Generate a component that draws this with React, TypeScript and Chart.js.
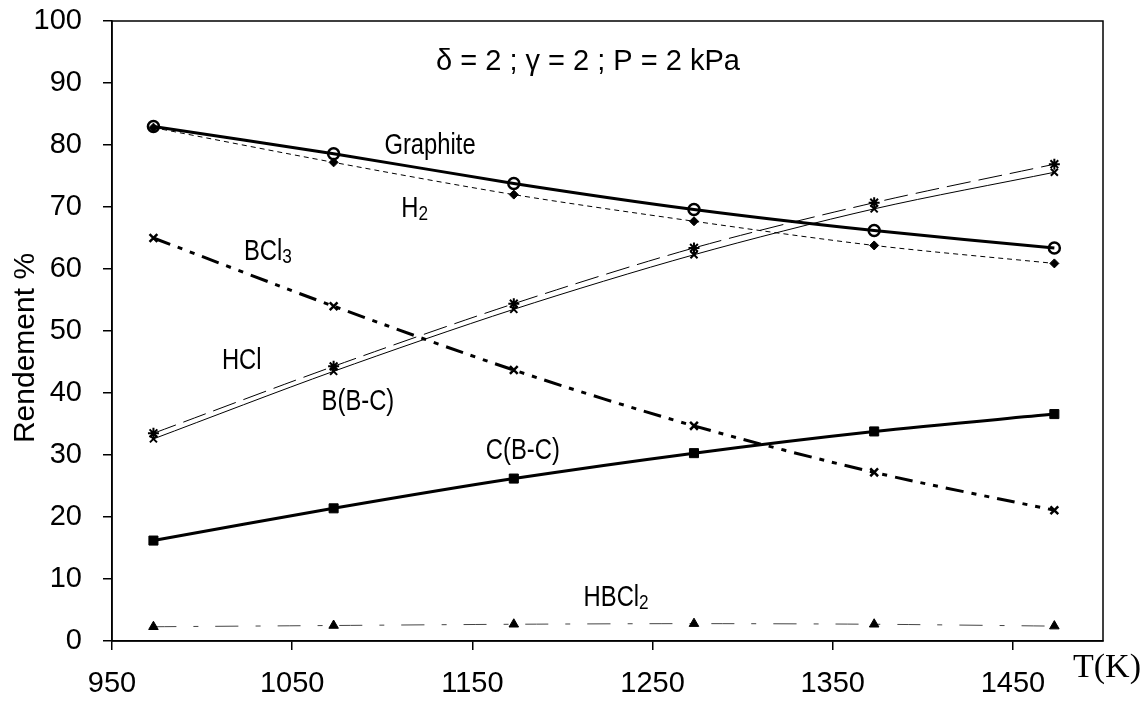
import React, { useEffect, useRef } from "react";
import { Chart, registerables } from "chart.js";

Chart.register(...registerables);

// ---- Data ----
const temperatures = [973, 1073, 1173, 1273, 1373, 1473];
const graphite = [83.0, 78.6, 73.8, 69.6, 66.2, 63.4];
const h2 = [82.8, 77.2, 72.0, 67.7, 63.8, 60.9];
const hcl = [33.5, 44.3, 54.4, 63.4, 70.7, 76.9];
const bbc = [32.6, 43.5, 53.5, 62.3, 69.7, 75.6];
const bcl3 = [65.0, 54.0, 43.7, 34.7, 27.2, 21.1];
const cbc = [16.2, 21.4, 26.2, 30.3, 33.8, 36.6];
const hbcl2 = [2.3, 2.5, 2.7, 2.8, 2.7, 2.4];

const xTickValues = [950, 1050, 1150, 1250, 1350, 1450];
const yTickValues = [0, 10, 20, 30, 40, 50, 60, 70, 80, 90, 100];

const chartTitle = "δ = 2 ; γ = 2 ; P = 2 kPa";
const xAxisTitle = "T(K)";
const yAxisTitle = "Rendement %";

// series labels placed in data coordinates (centre of text)
const seriesLabels = [
  { text: "Graphite", sub: "", x: 1126.5, y: 80.2 },
  { text: "H", sub: "2", x: 1118, y: 70.1 },
  { text: "BCl", sub: "3", x: 1036.5, y: 63.1 },
  { text: "HCl", sub: "", x: 1022, y: 45.5 },
  { text: "B(B-C)", sub: "", x: 1086.5, y: 39.0 },
  { text: "C(B-C)", sub: "", x: 1178, y: 31.1 },
  { text: "HBCl", sub: "2", x: 1229.8, y: 7.4 },
];

const SANS = '"Liberation Sans", Arial, Helvetica, sans-serif';
const SERIF = '"Liberation Serif", "Times New Roman", serif';

function toPoints(ys: number[]) {
  return temperatures.map((t, i) => ({ x: t, y: ys[i] }));
}

const decorPlugin = {
  id: "decor",
  afterDraw(chart: any) {
    const { ctx, chartArea, scales } = chart;
    const xs = scales.x;
    const ys = scales.y;
    ctx.save();
    // frame
    ctx.strokeStyle = "#000";
    ctx.lineWidth = 1.5;
    ctx.strokeRect(chartArea.left, chartArea.top, chartArea.right - chartArea.left, chartArea.bottom - chartArea.top);

    // chart title
    ctx.fillStyle = "#000";
    ctx.font = `29px ${SANS}`;
    ctx.textAlign = "left";
    ctx.textBaseline = "alphabetic";
    ctx.fillText(chartTitle, 436, 70);

    // x axis title
    ctx.font = `34px ${SERIF}`;
    ctx.fillText(xAxisTitle, 1073, 677);

    // y axis title
    ctx.save();
    ctx.translate(26, 348);
    ctx.rotate(-Math.PI / 2);
    ctx.font = `30px ${SANS}`;
    ctx.textAlign = "center";
    ctx.textBaseline = "middle";
    ctx.fillText(yAxisTitle, 0, 0);
    ctx.restore();

    // series labels (condensed)
    const sx = 0.82;
    const mainSize = 29;
    const subSize = 21;
    for (const lab of seriesLabels) {
      const cx = xs.getPixelForValue(lab.x);
      const cy = ys.getPixelForValue(lab.y);
      ctx.font = `${mainSize}px ${SANS}`;
      const w1 = ctx.measureText(lab.text).width * sx;
      ctx.font = `${subSize}px ${SANS}`;
      const w2 = lab.sub ? ctx.measureText(lab.sub).width * sx : 0;
      const left = cx - (w1 + w2) / 2;
      const baseline = cy + (mainSize * 0.716) / 2;
      ctx.save();
      ctx.translate(left, baseline);
      ctx.scale(sx, 1);
      ctx.textAlign = "left";
      ctx.textBaseline = "alphabetic";
      ctx.font = `${mainSize}px ${SANS}`;
      ctx.fillText(lab.text, 0, 0);
      if (lab.sub) {
        ctx.font = `${subSize}px ${SANS}`;
        ctx.fillText(lab.sub, w1 / sx, 3);
      }
      ctx.restore();
    }
    ctx.restore();
  },
};

export default function App() {
  const canvasRef = useRef<HTMLCanvasElement | null>(null);

  useEffect(() => {
    document.body.style.margin = "0";
    const canvas = canvasRef.current;
    if (!canvas) return;

    const common = {
      borderColor: "#000",
      pointBorderColor: "#000",
      pointBackgroundColor: "#000",
      fill: false,
      tension: 0.3,
    };

    const chart = new Chart(canvas, {
      type: "line",
      data: {
        datasets: [
          {
            ...common,
            label: "Graphite",
            data: toPoints(graphite),
            borderWidth: 3,
            pointStyle: "circle",
            pointRadius: 5.5,
            pointBorderWidth: 2.5,
            pointBackgroundColor: "rgba(0,0,0,0)",
          },
          {
            ...common,
            label: "H2",
            data: toPoints(h2),
            borderWidth: 1,
            borderDash: [5, 4],
            pointStyle: "rectRot",
            pointRadius: 4.5,
            pointBorderWidth: 1,
          },
          {
            ...common,
            label: "HCl",
            data: toPoints(hcl),
            borderWidth: 1,
            borderDash: [24, 8],
            pointStyle: "star",
            pointRadius: 5.5,
            pointBorderWidth: 2,
          },
          {
            ...common,
            label: "B(B-C)",
            data: toPoints(bbc),
            borderWidth: 1,
            pointStyle: "crossRot",
            pointRadius: 5,
            pointBorderWidth: 2,
          },
          {
            ...common,
            label: "BCl3",
            data: toPoints(bcl3),
            borderWidth: 3,
            borderDash: [18, 8, 5, 8, 5, 8],
            pointStyle: "crossRot",
            pointRadius: 5.5,
            pointBorderWidth: 2.5,
          },
          {
            ...common,
            label: "C(B-C)",
            data: toPoints(cbc),
            borderWidth: 3,
            pointStyle: "rect",
            pointRadius: 6.4,
            pointBorderWidth: 1,
          },
          {
            ...common,
            label: "HBCl2",
            data: toPoints(hbcl2),
            borderColor: "#444",
            borderWidth: 1,
            borderDash: [23, 17, 5, 17],
            pointStyle: "triangle",
            pointRadius: 5.5,
            pointBorderWidth: 1,
          },
        ],
      },
      options: {
        animation: false,
        responsive: true,
        maintainAspectRatio: false,
        layout: { padding: { top: 21, right: 38, left: 0, bottom: 0 } },
        plugins: {
          legend: { display: false },
          tooltip: { enabled: false },
          title: { display: false },
        },
        scales: {
          x: {
            type: "linear",
            min: 950,
            max: 1500,
            afterBuildTicks: (scale: any) => {
              scale.ticks = xTickValues.map((v) => ({ value: v }));
            },
            afterFit: (scale: any) => {
              scale.height = 61;
              scale.paddingLeft = 0;
              scale.paddingRight = 0;
            },
            grid: {
              drawOnChartArea: false,
              drawTicks: true,
              tickLength: 9,
              color: "#000",
              lineWidth: 1.5,
            },
            border: { display: true, color: "#000", width: 1.5 },
            ticks: {
              color: "#000",
              font: { family: SANS, size: 29 },
              padding: 17,
              maxRotation: 0,
              autoSkip: false,
              callback: (v: any) => String(v),
            },
          },
          y: {
            type: "linear",
            min: 0,
            max: 100,
            afterBuildTicks: (scale: any) => {
              scale.ticks = yTickValues.map((v) => ({ value: v }));
            },
            afterFit: (scale: any) => {
              scale.width = 112;
              scale.paddingTop = 0;
              scale.paddingBottom = 0;
            },
            grid: {
              drawOnChartArea: false,
              drawTicks: true,
              tickLength: 9,
              color: "#000",
              lineWidth: 1.5,
            },
            border: { display: true, color: "#000", width: 1.5 },
            ticks: {
              color: "#000",
              font: { family: SANS, size: 29 },
              padding: 21,
              autoSkip: false,
              callback: (v: any) => String(v),
            },
          },
        },
      },
      plugins: [decorPlugin],
    } as any);

    return () => {
      chart.destroy();
    };
  }, []);

  return (
    <div style={{ position: "relative", width: "1141px", height: "702px", background: "#fff" }}>
      <canvas ref={canvasRef} />
    </div>
  );
}
